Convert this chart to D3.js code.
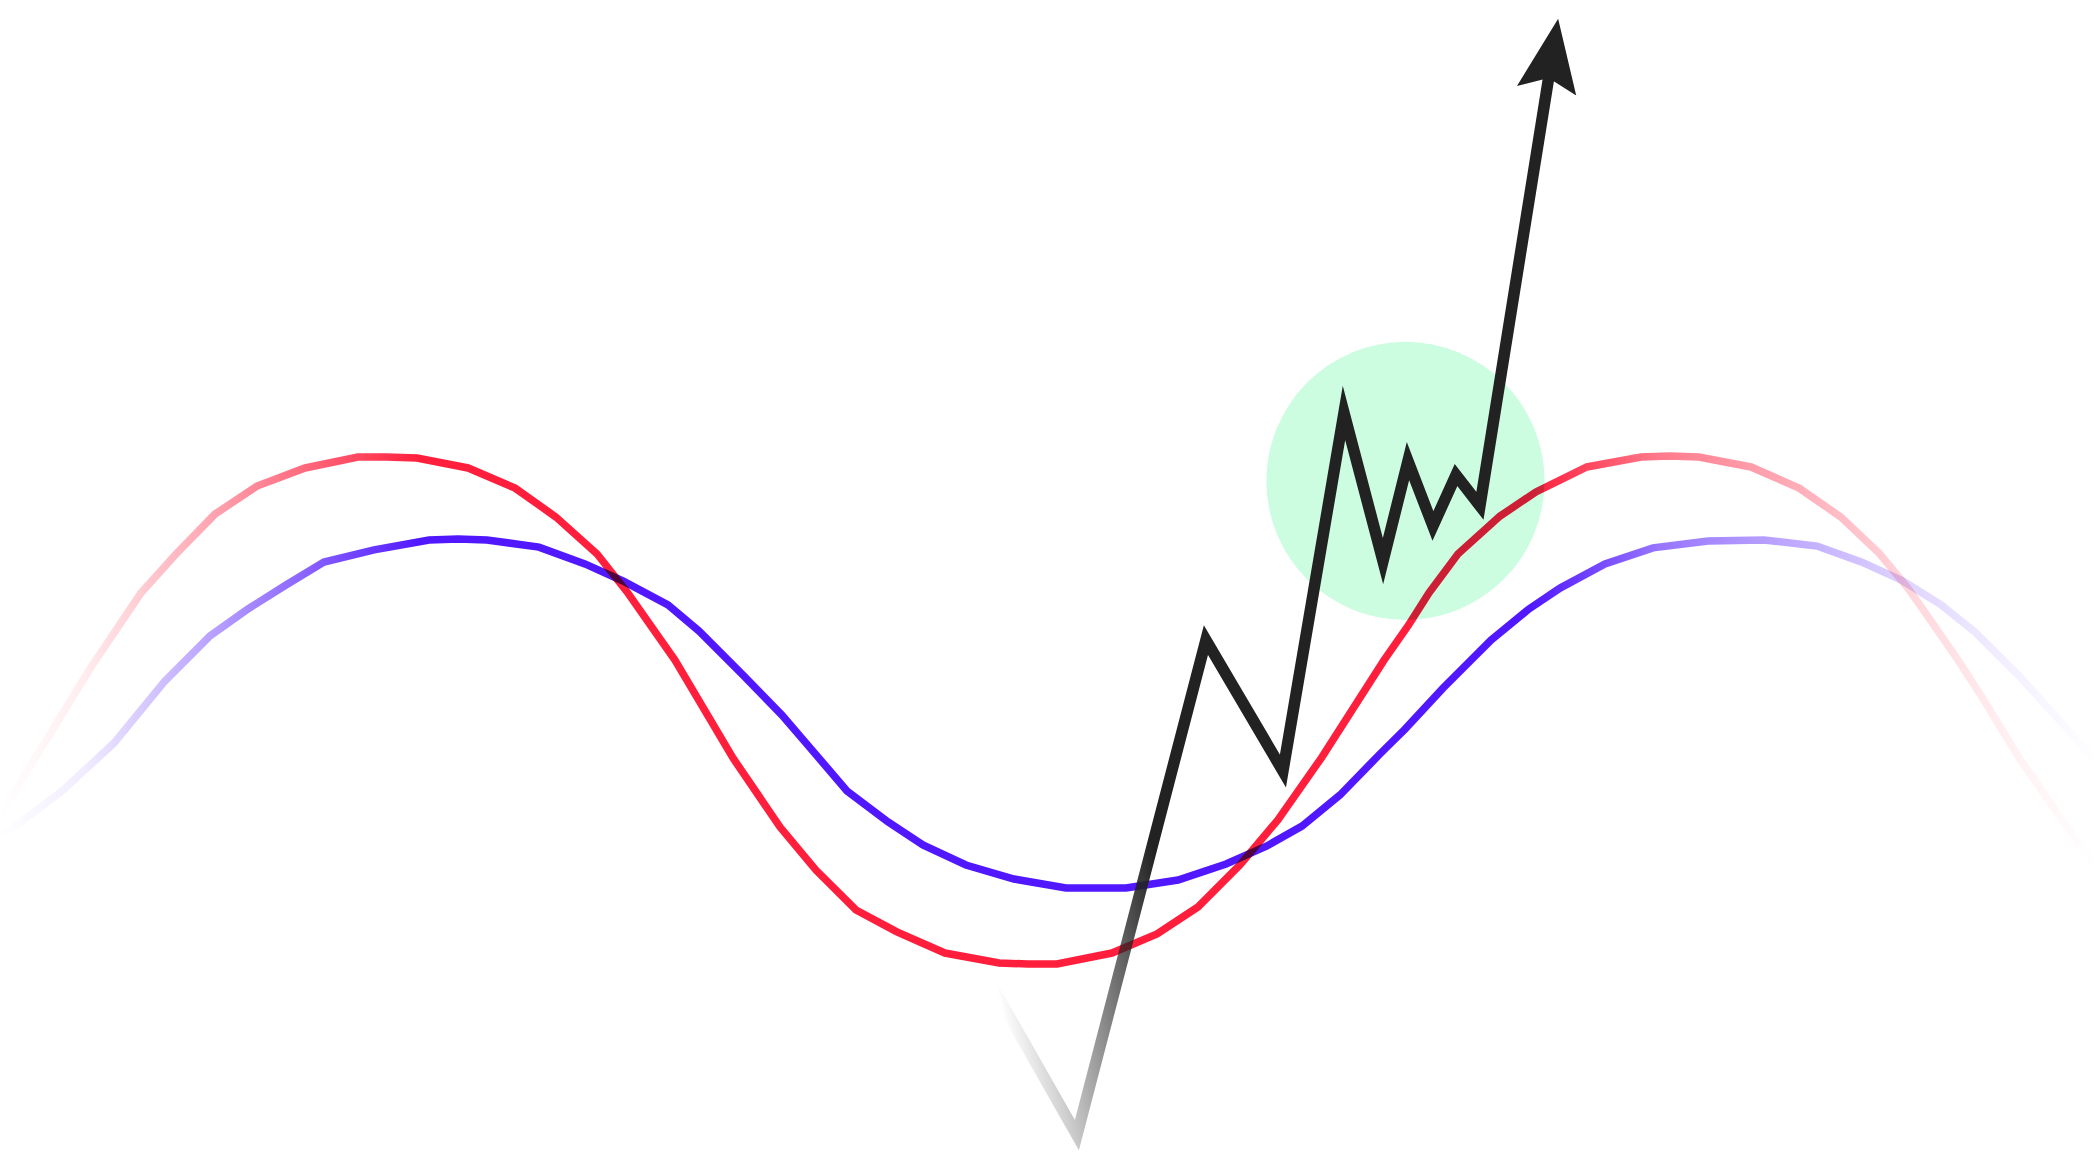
<!DOCTYPE html>
<html>
<head>
<meta charset="utf-8">
<script src="https://cdn.jsdelivr.net/npm/d3@7"></script>
<style>
  html, body { margin: 0; padding: 0; background: #ffffff; overflow: hidden; }
  svg { display: block; }
</style>
</head>
<body>
<svg id="chart"></svg>
<script>
// ---------------- data ----------------
// x: position 0..100 across the picture, v: value (red wave peaks at ±100)
const redT  = [0, 1.62, 4.34, 6.72, 8.39, 10.25, 12.25, 14.54, 17.06, 18.40, 19.88, 22.31, 24.55, 26.50, 28.46, 29.89, 32.17, 34.94, 37.18, 38.89, 40.80, 42.75, 45.04, 47.62, 49.00, 50.38, 53.00, 55.15, 57.10, 59.10, 60.91, 63.01, 65.97, 67.11, 68.11, 69.49, 71.50, 73.21, 75.64, 78.22, 79.60, 80.98, 83.46, 85.75, 87.75, 89.56, 90.94, 91.85, 93.33, 94.47, 96.28, 98.43, 100];
const redV  = [-41.1, -19.4, 17.1, 46.2, 61.5, 77.2, 88.2, 95.3, 99.6, 99.6, 99.2, 95.3, 87.4, 76.0, 61.5, 46.6, 19.8, -18.7, -45.8, -62.7, -78.4, -87.0, -95.3, -99.2, -99.6, -99.6, -95.3, -87.8, -77.2, -60.7, -43.0, -18.3, 19.8, 33.2, 46.2, 61.5, 76.4, 85.9, 95.7, 99.6, 100, 99.6, 95.7, 87.4, 76.0, 61.9, 48.1, 37.5, 19.8, 5.3, -19.1, -44.6, -62.3];

const blueT = [0, 1.00, 2.96, 5.43, 7.86, 10.01, 11.82, 13.63, 15.44, 17.83, 20.45, 21.83, 23.21, 25.69, 27.88, 29.69, 31.84, 33.32, 35.37, 37.27, 38.42, 40.37, 42.33, 43.99, 46.04, 48.33, 50.81, 52.29, 53.67, 56.15, 58.44, 60.39, 62.06, 63.87, 65.82, 66.97, 68.78, 71.07, 72.88, 74.36, 76.50, 78.79, 81.41, 84.08, 86.61, 88.75, 90.71, 92.52, 94.14, 96.28, 100];
const blueV = [-49.3, -43.8, -31.6, -12.8, 11.6, 29.3, 39.9, 49.3, 58.3, 63.1, 67.0, 67.4, 67.0, 64.2, 57.6, 50.9, 41.5, 31.2, 14.3, -1.8, -12.8, -31.6, -43.8, -52.8, -60.7, -66.2, -69.7, -69.7, -69.7, -66.6, -60.3, -53.2, -45.4, -33.2, -16.7, -7.3, 8.8, 27.7, 39.9, 48.1, 57.6, 63.9, 66.6, 67.0, 64.6, 58.3, 50.9, 41.5, 30.8, 13.2, -20.6];

const zigT  = [46.71, 51.33, 57.48, 61.15, 64.06, 65.92, 67.11, 68.30, 69.40, 70.54, 73.83];
const zigV  = [-100.0, -166.8, 27.7, -23.8, 116.9, 58.7, 98.0, 72.5, 92.5, 80.4, 249.3];

const bubble = { t: 66.99, v: 90.2, r: 6.63 };

// opacity stops of the fade at both ends of the waves
const fadeOffsets   = [0, 0.04, 0.10, 0.20, 0.73, 0.79, 0.86, 0.91, 0.96, 1];
const fadeOpacities = [0, 0.08, 0.40, 1, 1, 0.60, 0.35, 0.18, 0.06, 0];

// fade of the zigzag tail (start and end of the ramp, data units)
const inkFadeT = [47.52, 56.05];
const inkFadeV = [-109.8, -94.1];

// ---------------- drawing ----------------
const W = 2098, H = 1170;
const RED = '#ff1f3d', BLUE = '#5118ff', INK = '#222222', MINT = '#ccfde1';

const x = d3.scaleLinear().domain([0, 100]).range([0, W]);
const y = d3.scaleLinear().domain([-100, 100]).range([965, 456]);

const svg = d3.select('#chart').attr('width', W).attr('height', H)
  .attr('viewBox', `0 0 ${W} ${H}`);
svg.append('rect').attr('width', W).attr('height', H).attr('fill', '#ffffff');

const defs = svg.append('defs');
const fadeStops = d3.zip(fadeOffsets, fadeOpacities);

function fadeGrad(id, color) {
  const g = defs.append('linearGradient').attr('id', id)
    .attr('gradientUnits', 'userSpaceOnUse')
    .attr('x1', x(0)).attr('x2', x(100)).attr('y1', 0).attr('y2', 0);
  g.selectAll('stop').data(fadeStops).join('stop')
    .attr('offset', d => d[0])
    .attr('stop-color', color)
    .attr('stop-opacity', d => d[1]);
}
fadeGrad('redFade', RED);
fadeGrad('blueFade', BLUE);

const ink = defs.append('linearGradient').attr('id', 'inkFade')
  .attr('gradientUnits', 'userSpaceOnUse')
  .attr('x1', x(inkFadeT[0])).attr('y1', y(inkFadeV[0]))
  .attr('x2', x(inkFadeT[1])).attr('y2', y(inkFadeV[1]));
ink.append('stop').attr('offset', 0).attr('stop-color', INK).attr('stop-opacity', 0);
ink.append('stop').attr('offset', 1).attr('stop-color', INK).attr('stop-opacity', 1);

defs.append('marker').attr('id', 'arrow')
  .attr('markerUnits', 'userSpaceOnUse')
  .attr('viewBox', '0 -40 80 80')
  .attr('markerWidth', 80).attr('markerHeight', 80)
  .attr('refX', 15).attr('refY', 0)
  .attr('orient', 'auto')
  .append('path')
  .attr('d', 'M0,-30L73,0L0,30L13,0Z')
  .attr('fill', INK);

const line = d3.line().x(d => x(d[0])).y(d => y(d[1]));

// green bubble
svg.append('circle')
  .attr('cx', x(bubble.t)).attr('cy', y(bubble.v))
  .attr('r', x(bubble.r) - x(0))
  .attr('fill', MINT);

// waves
svg.append('path')
  .datum(d3.zip(redT, redV))
  .attr('d', line)
  .attr('fill', 'none')
  .attr('stroke', 'url(#redFade)')
  .attr('stroke-width', 7.5)
  .style('mix-blend-mode', 'multiply');

svg.append('path')
  .datum(d3.zip(blueT, blueV))
  .attr('d', line)
  .attr('fill', 'none')
  .attr('stroke', 'url(#blueFade)')
  .attr('stroke-width', 7.5)
  .style('mix-blend-mode', 'multiply');

// zigzag arrow
svg.append('path')
  .datum(d3.zip(zigT, zigV))
  .attr('d', line)
  .attr('fill', 'none')
  .attr('stroke', 'url(#inkFade)')
  .attr('stroke-width', 11.5)
  .attr('stroke-linejoin', 'miter')
  .attr('stroke-miterlimit', 20)
  .attr('marker-end', 'url(#arrow)');
</script>
</body>
</html>
